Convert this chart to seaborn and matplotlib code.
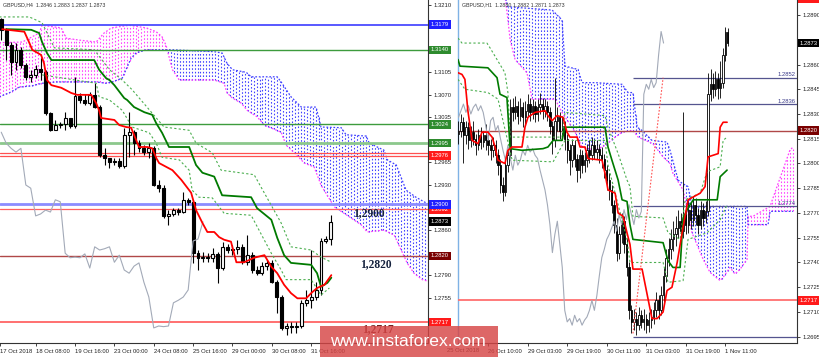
import numpy as np
import matplotlib
matplotlib.use("Agg")
import matplotlib.pyplot as plt
import matplotlib.transforms as mtransforms
from matplotlib.patches import Rectangle
import seaborn as sns

sns.set_style("white")
plt.rcParams['font.family'] = ['Liberation Sans', 'DejaVu Sans']

# ---------------- H4 (left) data ----------------
h4_first_open = 1.3188
h4_close = [1.3171,1.3147,1.3121,1.3140,1.3116,1.3098,1.3101,1.3110,1.3105,1.3042,
            1.3015,1.3023,1.3025,1.3034,1.3022,1.3068,1.3062,1.3057,1.3070,1.3051,
            1.2977,1.2972,1.2966,1.2967,1.2960,1.3008,1.3012,1.2995,1.2987,1.2981,
            1.2987,1.2930,1.2925,1.2882,1.2885,1.2891,1.2888,1.2907,1.2904,1.2824,
            1.2817,1.2818,1.2817,1.2823,1.2801,1.2834,1.2829,1.2831,1.2834,1.2810,
            1.2821,1.2798,1.2793,1.2804,1.2809,1.2779,1.2756,1.2708,1.2711,1.2710,
            1.2711,1.2747,1.2751,1.2756,1.2767,1.2843,1.2846,1.2873]
h4_high = [1.3189,1.3174,1.3152,1.3151,1.3144,1.3119,1.3109,1.3116,1.3127,1.3109,
           1.3043,1.3031,1.3028,1.3043,1.3034,1.3098,1.3073,1.3071,1.3074,1.3088,
           1.3054,1.2987,1.2972,1.2972,1.2972,1.3019,1.3043,1.3015,1.3000,1.2992,
           1.2995,1.2991,1.2938,1.2930,1.2891,1.2894,1.2894,1.2919,1.2910,1.2907,
           1.2829,1.2826,1.2824,1.2832,1.2826,1.2841,1.2838,1.2837,1.2845,1.2838,
           1.2852,1.2826,1.2804,1.2810,1.2813,1.2813,1.2783,1.2759,1.2716,1.2717,
           1.2717,1.2751,1.2767,1.2829,1.2779,1.2848,1.2851,1.2883]
h4_low = [1.3155,1.3124,1.3101,1.3109,1.3112,1.3093,1.3090,1.3096,1.3093,1.3039,
          1.3014,1.3015,1.3019,1.3015,1.3019,1.3019,1.3057,1.3054,1.3054,1.3050,
          1.2973,1.2961,1.2956,1.2961,1.2956,1.2956,1.2973,1.2977,1.2981,1.2977,
          1.2972,1.2928,1.2919,1.2879,1.2868,1.2882,1.2883,1.2887,1.2899,1.2809,
          1.2798,1.2810,1.2810,1.2810,1.2778,1.2798,1.2824,1.2821,1.2823,1.2807,
          1.2806,1.2793,1.2790,1.2790,1.2798,1.2778,1.2731,1.2705,1.2697,1.2700,
          1.2700,1.2708,1.2742,1.2739,1.2751,1.2759,1.2840,1.2837]

tenkan_h4_x = [0.2,4.7,5.7,6.3,8.1,8.7,9.3,10.2,12.2,14.2,15.4,18.3,19.3,19.9,20.3,23.0,24.0,25.4,26.4,28.0,
               29.7,30.7,31.5,32.1,34.8,36.6,38.6,39.6,40.9,41.9,43.3,44.3,45.3,46.7,47.8,49.4,51.4,53.5,54.9,56.1,
               57.5,58.9,60.2,62.0,63.0,64.2,65.7,67.1]
tenkan_h4_y = [1.3172,1.3168,1.3151,1.3140,1.3132,1.3119,1.3093,1.3085,1.3081,1.3073,1.3070,1.3070,1.3057,1.3046,1.3034,1.3031,1.3023,1.3020,1.3019,1.2989,
               1.2989,1.2987,1.2972,1.2964,1.2953,1.2938,1.2918,1.2891,1.2871,1.2857,1.2857,1.2849,1.2845,1.2842,1.2810,1.2810,1.2817,1.2821,1.2803,1.2793,
               1.2775,1.2762,1.2754,1.2754,1.2762,1.2770,1.2775,1.2790]
kijun_h4_x = [1.0,6.1,7.7,8.3,9.3,10.2,18.9,19.9,21.3,22.0,23.0,25.0,25.6,27.0,29.1,30.7,31.5,32.7,34.1,38.2,
              39.6,40.9,43.3,44.9,50.8,52.0,54.9,56.1,57.5,58.9,63.0,64.2,65.0,66.3,67.1]
kijun_h4_y = [1.3172,1.3171,1.3166,1.3152,1.3135,1.3124,1.3124,1.3109,1.3096,1.3093,1.3085,1.3065,1.3062,1.3051,1.3043,1.3039,1.3026,1.3011,1.2989,1.2989,
              1.2961,1.2949,1.2943,1.2914,1.2911,1.2894,1.2876,1.2848,1.2821,1.2809,1.2806,1.2793,1.2772,1.2778,1.2786]
env_up_h4_x = [-0.4,5.7,8.3,10.8,18.9,22.0,24.6,26.6,33.1,38.2,39.6,42.9,44.7,51.4,56.9,58.9,63.0,65.0,67.1]
env_up_h4_y = [1.3191,1.3191,1.3182,1.3143,1.3140,1.3109,1.3093,1.3078,1.3020,1.3015,1.2995,1.2980,1.2953,1.2946,1.2871,1.2834,1.2829,1.2818,1.2810]
env_dn_h4_x = [8.3,19.3,19.9,22.0,24.6,26.6,30.1,31.5,32.7,36.2,38.2,38.8,40.2,42.9,45.3,50.8,54.9,56.9,57.9,63.0,65.0,66.7]
env_dn_h4_y = [1.3101,1.3088,1.3067,1.3062,1.3046,1.3020,1.3011,1.2995,1.2973,1.2969,1.2953,1.2922,1.2911,1.2910,1.2886,1.2883,1.2824,1.2798,1.2783,1.2783,1.2759,1.2770]
spanA_h4_x = [-0.4,4.3,7.7,8.3,12.2,13.2,15.9,19.3,20.9,22.4,26.0,29.5,31.5,32.7,33.5,34.8,36.2,43.3,45.3,45.9,
              47.0,48.8,50.0,52.0,53.5,56.9,57.9,60.0,61.6,63.6,65.0,67.7,70.3,73.2,74.4,77.8,79.9,81.3,82.5,83.9,85.6,87.0]
spanA_h4_y = [1.3151,1.3152,1.3166,1.3178,1.3174,1.3158,1.3155,1.3152,1.3166,1.3174,1.3178,1.3174,1.3168,1.3160,1.3147,1.3109,1.3093,1.3093,1.3088,1.3073,
              1.3065,1.3057,1.3046,1.3036,1.3023,1.3012,1.2992,1.2977,1.2964,1.2958,1.2930,1.2896,1.2883,1.2868,1.2857,1.2860,1.2852,1.2829,1.2809,1.2793,1.2783,1.2780]
spanB_h4_x = [-0.4,1.6,3.7,6.3,8.3,11.2,19.3,21.3,22.6,24.6,26.4,27.4,29.5,34.8,43.3,44.9,45.9,47.0,49.8,50.8,
              56.1,56.9,58.9,61.0,64.0,65.0,69.1,70.1,74.2,74.8,77.8,78.5,80.3,82.3,84.3,86.4,87.0]
spanB_h4_y = [1.3067,1.3073,1.3082,1.3084,1.3088,1.3090,1.3090,1.3088,1.3090,1.3096,1.3127,1.3135,1.3140,1.3140,1.3137,1.3135,1.3119,1.3109,1.3105,1.3098,
              1.3098,1.3090,1.3067,1.3051,1.3051,1.3020,1.3019,1.3008,1.3006,1.2995,1.2984,1.2969,1.2961,1.2922,1.2911,1.2902,1.2900]

h4_yticks = [1.3210,1.3175,1.3140,1.3105,1.3070,1.3035,1.3000,1.2965,1.2930,1.2895,1.2860,1.2825,1.2790,1.2755,1.2720]
h4_hidden_ticks = [1.3175,1.3140,1.3000,1.2895,1.2825,1.2720]
h4_xtick_bars = [-0.2,7,15,23,31,39,47,55,63]
h4_xtick_labels = ['17 Oct 2018','18 Oct 08:00','19 Oct 16:00','23 Oct 00:00','24 Oct 08:00',
                   '25 Oct 16:00','29 Oct 00:00','30 Oct 08:00','31 Oct 16:00']
h4_level_lines = [(1.3179,'#4b4bff',1.3),(1.3140,'#3d9b3d',1.0),(1.3024,'#3d9b3d',1.0),(1.2995,'#8cc88c',2.0),
                  (1.2979,'#ff5050',0.9),(1.2975,'#ff5050',0.9),(1.2900,'#8c8cff',2.0),(1.2892,'#ff6060',0.9),
                  (1.2820,'#b04848',1.0),(1.2717,'#ff7070',1.4)]
h4_level_boxes = [(1.3179,'#1f1fff'),(1.3140,'#2e8b2e'),(1.3024,'#2e8b2e'),(1.2995,'#2e8b2e'),
                  (1.2976,'#ff1a1a'),(1.2892,'#ff1a1a'),(1.2900,'#1f1fff'),(1.2873,'#000000'),
                  (1.2820,'#7a0000'),(1.2717,'#ff1a1a')]
h4_notes = [(74.8,1.28857,'1,2900','#14213d'),(76.2,1.28073,'1,2820','#14213d'),(76.6,1.27064,'1,2717','#6e2222')]

# ---------------- H1 (right) data ----------------
h1_first_open = 1.2818
h1_close = [1.2820,1.2825,1.2817,1.2822,1.2814,1.2819,1.2815,1.2811,1.2817,1.2813,
            1.2817,1.2814,1.2811,1.2808,1.2811,1.2805,1.2799,1.2787,1.2783,1.2799,
            1.2805,1.2834,1.2831,1.2835,1.2829,1.2834,1.2828,1.2832,1.2836,1.2831,
            1.2835,1.2830,1.2834,1.2836,1.2832,1.2835,1.2831,1.2823,1.2814,1.2826,
            1.2828,1.2820,1.2823,1.2815,1.2808,1.2802,1.2811,1.2803,1.2796,1.2805,
            1.2799,1.2802,1.2808,1.2805,1.2811,1.2807,1.2809,1.2805,1.2803,1.2796,
            1.2790,1.2784,1.2775,1.2763,1.2746,1.2757,1.2765,1.2751,1.2737,1.2711,
            1.2704,1.2706,1.2702,1.2708,1.2704,1.2706,1.2702,1.2705,1.2707,1.2711,
            1.2717,1.2711,1.2720,1.2732,1.2743,1.2748,1.2754,1.2757,1.2761,1.2765,
            1.2759,1.2769,1.2763,1.2772,1.2766,1.2775,1.2769,1.2763,1.2772,1.2767,
            1.2771,1.2842,1.2848,1.2845,1.2851,1.2846,1.2849,1.2866,1.2880,1.2873]
h1_high = [1.2826,1.2830,1.2828,1.2826,1.2825,1.2823,1.2826,1.2818,1.2821,1.2822,
           1.2820,1.2824,1.2818,1.2815,1.2816,1.2814,1.2809,1.2803,1.2792,1.2803,
           1.2810,1.2839,1.2840,1.2841,1.2838,1.2840,1.2837,1.2838,1.2842,1.2840,
           1.2839,1.2838,1.2839,1.2843,1.2840,1.2839,1.2838,1.2834,1.2826,1.2852,
           1.2834,1.2831,1.2829,1.2826,1.2818,1.2812,1.2815,1.2814,1.2806,1.2809,
           1.2808,1.2807,1.2812,1.2814,1.2816,1.2815,1.2814,1.2812,1.2810,1.2806,
           1.2799,1.2794,1.2787,1.2778,1.2767,1.2762,1.2770,1.2768,1.2755,1.2740,
           1.2714,1.2712,1.2710,1.2713,1.2711,1.2712,1.2709,1.2710,1.2712,1.2716,
           1.2722,1.2720,1.2726,1.2737,1.2748,1.2755,1.2760,1.2765,1.2768,1.2772,
           1.2770,1.2831,1.2775,1.2778,1.2776,1.2780,1.2779,1.2773,1.2777,1.2776,
           1.2777,1.2855,1.2857,1.2855,1.2856,1.2855,1.2862,1.2870,1.2883,1.2882]
h1_low = [1.2812,1.2816,1.2800,1.2812,1.2809,1.2810,1.2811,1.2805,1.2808,1.2809,
          1.2810,1.2808,1.2805,1.2802,1.2804,1.2800,1.2793,1.2782,1.2777,1.2780,
          1.2795,1.2802,1.2826,1.2827,1.2824,1.2826,1.2822,1.2824,1.2829,1.2826,
          1.2827,1.2825,1.2826,1.2830,1.2827,1.2828,1.2826,1.2818,1.2806,1.2810,
          1.2820,1.2815,1.2814,1.2808,1.2800,1.2793,1.2798,1.2798,1.2789,1.2791,
          1.2794,1.2795,1.2798,1.2800,1.2802,1.2803,1.2803,1.2800,1.2797,1.2791,
          1.2784,1.2778,1.2770,1.2758,1.2741,1.2742,1.2752,1.2746,1.2732,1.2706,
          1.2697,1.2699,1.2696,1.2699,1.2700,1.2699,1.2697,1.2698,1.2700,1.2703,
          1.2707,1.2706,1.2708,1.2716,1.2728,1.2738,1.2742,1.2747,1.2750,1.2755,
          1.2752,1.2755,1.2757,1.2758,1.2760,1.2762,1.2763,1.2757,1.2760,1.2762,
          1.2764,1.2768,1.2838,1.2840,1.2841,1.2839,1.2840,1.2846,1.2862,1.2871]

tenkan_h1_x = [-0.2,1.4,2.6,3.8,5.5,7.9,9.5,11.9,13.6,14.8,16.0,18.8,20.0,21.7,25.7,26.9,28.1,31.0,35.0,36.2,
               37.9,39.9,42.3,43.9,45.1,48.0,49.2,51.2,52.4,58.1,59.3,60.5,63.4,64.6,66.6,68.2,69.4,70.6,74.3,78.3,
               80.4,82.8,84.4,86.4,88.5,90.5,92.9,97.8,99.8,101.0,105.1,105.9,107.1,108.7]
tenkan_h1_y = [1.2855,1.2854,1.2851,1.2832,1.2814,1.2812,1.2819,1.2819,1.2816,1.2810,1.2802,1.2800,1.2808,1.2810,1.2810,1.2822,1.2828,1.2831,1.2832,1.2829,
               1.2826,1.2829,1.2828,1.2819,1.2816,1.2816,1.2810,1.2810,1.2803,1.2802,1.2794,1.2784,1.2782,1.2770,1.2768,1.2758,1.2751,1.2736,1.2736,1.2706,
               1.2706,1.2710,1.2723,1.2725,1.2740,1.2758,1.2778,1.2782,1.2786,1.2804,1.2806,1.2822,1.2825,1.2825]
kijun_h1_x = [-0.2,0.6,11.9,15.6,16.8,19.6,20.9,25.7,34.2,36.2,38.3,41.9,43.1,59.3,60.5,62.1,64.6,66.2,68.2,69.4,
              70.6,82.8,84.8,86.8,89.7,90.9,92.9,95.0,104.7,105.9,108.7]
kijun_h1_y = [1.2863,1.2859,1.2858,1.2852,1.2842,1.2840,1.2809,1.2808,1.2809,1.2810,1.2814,1.2814,1.2822,1.2822,1.2810,1.2802,1.2790,1.2778,1.2777,1.2763,
              1.2754,1.2752,1.2741,1.2737,1.2737,1.2767,1.2773,1.2778,1.2778,1.2792,1.2796]
env_up_h1_x = [-0.2,1.4,11.5,12.8,18.8,20.0,20.9,41.9,43.1,59.3,60.5,64.6,68.2,69.4,70.6,82.8,84.8,89.7,91.7,97.8,100.6,105.9,107.1,108.7]
env_up_h1_y = [1.2876,1.2873,1.2873,1.2870,1.2855,1.2843,1.2816,1.2816,1.2831,1.2829,1.2822,1.2806,1.2790,1.2786,1.2768,1.2767,1.2758,1.2754,1.2778,1.2782,1.2795,1.2798,1.2814,1.2816]
env_dn_h1_x = [-0.2,2.6,11.9,16.0,21.7,38.3,43.1,59.3,60.5,64.6,68.2,69.4,82.8,84.8,90.9,92.9,100.6,105.9,108.7]
env_dn_h1_y = [1.2851,1.2845,1.2843,1.2839,1.2802,1.2801,1.2814,1.2814,1.2799,1.2775,1.2754,1.2740,1.2740,1.2728,1.2729,1.2754,1.2758,1.2766,1.2775]
spanA_h1_x = [18.8,20.0,20.9,22.9,27.7,29.8,39.1,41.9,45.9,47.2,50.0,55.3,59.3,63.4,66.2,70.6,72.7,78.7,82.8,85.6,
              86.8,90.9,92.9,94.5,99.0,101.8,105.9,107.1,109.9,111.9,114.0,116.8,117.2,119.2,126.1,128.9,131.3,134.1,135.4]
spanA_h1_y = [1.2902,1.2887,1.2875,1.2863,1.2855,1.2839,1.2839,1.2831,1.2822,1.2819,1.2810,1.2808,1.2811,1.2816,1.2819,1.2820,1.2816,1.2812,1.2804,1.2800,
              1.2794,1.2784,1.2770,1.2758,1.2742,1.2734,1.2729,1.2731,1.2737,1.2733,1.2736,1.2742,1.2768,1.2768,1.2774,1.2786,1.2796,1.2808,1.2810]
spanB_h1_x = [18.8,20.0,28.9,37.9,41.9,43.1,48.4,50.0,55.3,66.2,68.6,70.6,72.3,74.3,78.3,84.4,85.6,88.9,90.5,92.9,
              94.5,116.8,117.2,125.3,126.1,135.4]
spanB_h1_y = [1.2902,1.2895,1.2894,1.2893,1.2887,1.2859,1.2857,1.2849,1.2849,1.2848,1.2843,1.2843,1.2822,1.2820,1.2814,1.2813,1.2808,1.2790,1.2788,1.2786,
              1.2774,1.2774,1.2763,1.2763,1.2771,1.2771]
trend_h1_x = [70.6, 82.8]
trend_h1_y = [1.2697, 1.2852]

h1_yticks = [1.2890,1.2875,1.2860,1.2845,1.2830,1.2815,1.2800,1.2785,1.2770,1.2755,1.2740,1.2725,1.2710,1.2695]
h1_hidden_ticks = [1.2875]
h1_xtick_bars = [12,28,44,60,76,92,108]
h1_xtick_labels = ['26 Oct 10:00','29 Oct 03:00','29 Oct 19:00','30 Oct 11:00','31 Oct 03:00','31 Oct 19:00','1 Nov 11:00']
h1_navy_levels = [1.2852, 1.2836, 1.2774, 1.2695]
h1_navy_labels = [1.2852, 1.2836, 1.2774]
h1_level_boxes = [(1.2900,'#ff1a1a'),(1.2873,'#000000'),(1.2820,'#7a0000'),(1.2717,'#ff1a1a')]

# ---------------- drawing ----------------
W, H = 820, 357
fig = plt.figure(figsize=(W / 100, H / 100), dpi=100)
axL = fig.add_axes([0, 14 / H, 428 / W, 343 / H])
axR = fig.add_axes([458 / W, 14 / H, 339 / W, 343 / H])
FS = 4.2


def candles(ax, first_open, close, high, low, width, lw):
    close = np.asarray(close); high = np.asarray(high); low = np.asarray(low)
    opn = np.concatenate([[first_open], close[:-1]])
    x = np.arange(len(close))
    ax.vlines(x, low, high, color='black', lw=lw, zorder=6)
    up = close >= opn
    lo = np.minimum(opn, close)
    hgt = np.maximum(np.abs(close - opn), 0.00002)
    ax.bar(x[up], hgt[up], width=width, bottom=lo[up], color='white', edgecolor='black', linewidth=lw, zorder=7)
    ax.bar(x[~up], hgt[~up], width=width, bottom=lo[~up], color='black', edgecolor='black', linewidth=lw, zorder=7)


def cloud(ax, ax_x, ax_y, bx_x, bx_y, x0, x1, step):
    xs = np.arange(x0, x1, step)
    a = np.interp(xs, ax_x, ax_y)
    b = np.interp(xs, bx_x, bx_y)
    lo = np.minimum(a, b); hi = np.maximum(a, b)
    pink = a > b
    ls = (0, (1.4, 1.8))
    ax.vlines(xs[pink], lo[pink], hi[pink], colors='#ff40ff', linestyles=[ls], lw=0.8, zorder=2)
    ax.vlines(xs[~pink], lo[~pink], hi[~pink], colors='#4040ff', linestyles=[ls], lw=0.8, zorder=2)
    sns.lineplot(x=ax_x, y=ax_y, ax=ax, color='#ff40ff', lw=0.9, linestyle=(0, (1.4, 1.4)),
                 sort=False, estimator=None, legend=False, zorder=2)
    sns.lineplot(x=bx_x, y=bx_y, ax=ax, color='#4040ff', lw=0.9, linestyle=(0, (1.4, 1.4)),
                 sort=False, estimator=None, legend=False, zorder=2)


def ind_line(ax, x, y, color, lw, ls='-'):
    sns.lineplot(x=x, y=y, ax=ax, color=color, lw=lw, linestyle=ls, sort=False,
                 estimator=None, legend=False, zorder=8)


def boxes(ax, items, px_w):
    trans = mtransforms.blended_transform_factory(ax.transAxes, ax.transData)
    for price, bg in items:
        ax.text(1.0 + 3.0 / px_w, price, f'{price:.4f}', transform=trans, fontsize=FS, color='white',
                ha='left', va='center', zorder=30, clip_on=False,
                bbox=dict(boxstyle='square,pad=0.3', fc=bg, ec='none'))


# ---- left panel
cloud(axL, spanA_h4_x, spanA_h4_y, spanB_h4_x, spanB_h4_y, -0.3, 87.0, 0.6)
for price, col, lw in h4_level_lines:
    axL.axhline(price, color=col, lw=lw, zorder=4)
candles(axL, h4_first_open, h4_close, h4_high, h4_low, 0.6, 0.8)
chik_L = np.asarray(h4_close)[26:]
ind_line(axL, list(range(len(chik_L))), list(chik_L), '#a3aab8', 0.8)
ind_line(axL, env_up_h4_x, env_up_h4_y, '#4caf50', 0.8, (0, (2, 2)))
ind_line(axL, env_dn_h4_x, env_dn_h4_y, '#4caf50', 0.8, (0, (2, 2)))
ind_line(axL, kijun_h4_x, kijun_h4_y, '#007a00', 1.3)
ind_line(axL, tenkan_h4_x, tenkan_h4_y, '#ff0000', 1.3)
for bx, by, txt, col in h4_notes:
    axL.text(bx, by, txt, fontsize=8.3, fontweight='bold', color=col, ha='center', va='center',
             family=['Liberation Serif', 'DejaVu Serif'], zorder=25)
axL.set_xlim(-0.25, 86.75)
axL.set_ylim(1.26846, 1.32173)
boxes(axL, h4_level_boxes, 428)

# ---- right panel
cloud(axR, spanA_h1_x, spanA_h1_y, spanB_h1_x, spanB_h1_y, 18.9, 135.5, 1.2)
axR.axhline(1.2820, color='#b04848', lw=1.0, zorder=4)
axR.axhline(1.2717, color='#ff7070', lw=1.3, zorder=4)
for price in h1_navy_levels:
    axR.hlines(price, 70.6, 137.5, color='#55558f', lw=0.9, zorder=4)
for price in h1_navy_labels:
    axR.text(136.6, price + 0.00003, f'{price:.4f}', fontsize=FS, color='#3b3b8a', ha='right', va='bottom', zorder=9)
candles(axR, h1_first_open, h1_close, h1_high, h1_low, 0.55, 0.6)
chik_R = np.asarray(h1_close)[26:]
ind_line(axR, list(range(len(chik_R))), list(chik_R), '#a3aab8', 0.8)
ind_line(axR, env_up_h1_x, env_up_h1_y, '#4caf50', 0.8, (0, (2, 2)))
ind_line(axR, env_dn_h1_x, env_dn_h1_y, '#4caf50', 0.8, (0, (2, 2)))
ind_line(axR, kijun_h1_x, kijun_h1_y, '#007a00', 1.2)
ind_line(axR, tenkan_h1_x, tenkan_h1_y, '#ff0000', 1.2)
ind_line(axR, trend_h1_x, trend_h1_y, '#ff5050', 0.8, (0, (1.5, 1.5)))
axR.set_xlim(-0.2, 137.0)
axR.set_ylim(1.26912, 1.28991)
boxes(axR, h1_level_boxes, 339)

# ---- axes styling
for ax, yt, hid, xt, xl in [(axL, h4_yticks, h4_hidden_ticks, h4_xtick_bars, h4_xtick_labels),
                            (axR, h1_yticks, h1_hidden_ticks, h1_xtick_bars, h1_xtick_labels)]:
    ax.set_facecolor('white')
    ax.yaxis.tick_right()
    ax.set_yticks(yt)
    ax.set_yticklabels(['' if v in hid else f'{v:.4f}' for v in yt])
    ax.set_xticks(xt)
    ax.set_xticklabels(xl, ha='left')
    ax.tick_params(axis='both', which='both', labelsize=FS, length=2.5, width=0.6, pad=1.5,
                   colors='#222222', direction='out', bottom=True, right=True, left=False)
    ax.set_xlabel(''); ax.set_ylabel('')
    ax.spines['top'].set_visible(False)
    for s in ['right', 'bottom']:
        ax.spines[s].set_color('#333333'); ax.spines[s].set_linewidth(0.8)
axL.spines['left'].set_visible(False)
axR.spines['left'].set_color('#7fb2e5'); axR.spines['left'].set_linewidth(1.0)

# titles
fig.text(3 / W, 1 - 5 / H, 'GBPUSD,H4  1.2846 1.2883 1.2837 1.2873', fontsize=3.8, color='#333333', va='center', ha='left')
fig.text(462 / W, 1 - 5 / H, 'GBPUSD,H1  1.2880 1.2882 1.2871 1.2873', fontsize=3.8, color='#333333', va='center', ha='left')
fig.text(447 / W, 1 - 350 / H, '25 Oct 2018', fontsize=FS, color='#222222', va='center', ha='left')

# watermark
fig.add_artist(Rectangle((320 / W, 0), (498 - 320) / W, (357 - 326) / H, transform=fig.transFigure,
                         facecolor='#d64545', edgecolor='none', alpha=0.82, zorder=50))
fig.text(330 / W, (357 - 346) / H, 'www.instaforex.com', fontsize=12.6, color='white',
         ha='left', va='baseline', zorder=51)

fig.savefig('out.png', dpi=100)
